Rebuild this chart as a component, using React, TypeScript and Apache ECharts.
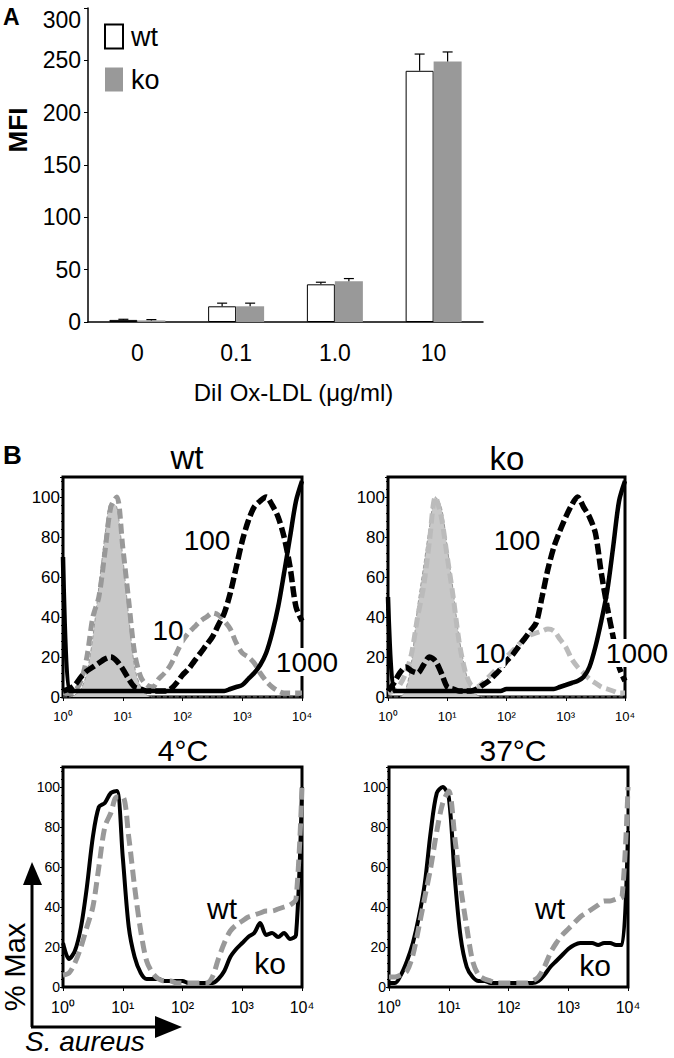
import React, { useEffect, useRef } from 'react';
import * as echarts from 'echarts';

const FONT = "'Liberation Sans', Arial, Helvetica, sans-serif";

// ---------- Panel A: MFI bar chart ----------
const doseCategories = ['0', '0.1', '1.0', '10'];
const mfiWt = [2, 15, 36, 240];
const mfiKo = [1.5, 15, 39, 249];
const sdWt = [0.6, 3, 2, 16];
const sdKo = [0.8, 3, 2.5, 9];

// ---------- Panel B: flow histograms (channel bins, % max) ----------
const channels = [1, 1.26, 1.58, 2, 2.51, 3.16, 3.98, 5.01, 6.31, 7.94, 10, 12.6, 15.8, 20, 25.1, 31.6, 39.8, 50.1, 63.1, 79.4, 100, 126, 158, 200, 251, 316, 398, 501, 631, 794, 1000, 1259, 1585, 1995, 2512, 3162, 3981, 5012, 6310, 7943, 10000];

const wtCtrl = [0, 0, 1, 4, 12, 30, 55, 80, 97, 95, 70, 40, 15, 5, 1, 0, 0, 0, 0, 0, 0, 0, 0, 0, 0, 0, 0, 0, 0, 0, 0, 0, 0, 0, 0, 0, 0, 0, 0, 0, 0];
const wt10 = [2, 2, 3, 8, 20, 40, 50, 72, 95, 100, 75, 48, 22, 10, 6, 5, 9, 12, 16, 22, 28, 32, 35, 38, 40, 42, 41, 38, 34, 27, 22, 20, 17, 12, 8, 5, 3, 2, 2, 2, 2];
const wt100 = [3, 4, 6, 10, 13, 15, 17, 19, 20, 18, 14, 9, 5, 4, 3, 3, 3, 3, 4, 7, 11, 14, 18, 22, 26, 30, 36, 42, 52, 65, 78, 88, 95, 98, 100, 96, 90, 80, 65, 45, 38];
const wt1000 = [70, 3, 3, 3, 3, 3, 3, 3, 3, 3, 3, 3, 3, 3, 3, 3, 3, 3, 3, 3, 3, 3, 3, 3, 3, 3, 3, 3, 4, 5, 6, 9, 12, 16, 22, 32, 45, 62, 80, 98, 108];

const koCtrl = [0, 0, 0, 4, 18, 45, 65, 85, 100, 95, 75, 53, 30, 14, 4, 1, 0, 0, 0, 0, 0, 0, 0, 0, 0, 0, 0, 0, 0, 0, 0, 0, 0, 0, 0, 0, 0, 0, 0, 0, 0];
const ko10 = [2, 3, 6, 12, 22, 40, 55, 78, 100, 90, 70, 50, 28, 13, 6, 5, 7, 10, 13, 16, 20, 23, 26, 29, 31, 32, 33, 34, 33, 29, 25, 19, 15, 12, 9, 7, 5, 4, 3, 2, 2];
const ko100 = [3, 7, 12, 15, 13, 12, 16, 20, 18, 12, 5, 4, 3, 3, 3, 4, 6, 8, 11, 14, 18, 21, 25, 29, 33, 37, 50, 64, 75, 83, 90, 96, 100, 95, 90, 82, 62, 45, 30, 15, 8];
const ko1000 = [50, 3, 3, 3, 3, 3, 3, 3, 3, 3, 3, 3, 3, 3, 3, 3, 3, 3, 3, 3, 4, 4, 4, 4, 4, 4, 4, 4, 4, 5, 6, 7, 8, 10, 15, 25, 38, 53, 75, 98, 108];

const sa4Ko = [22, 14, 18, 30, 50, 75, 90, 92, 97, 98, 65, 30, 15, 7, 4, 4, 4, 3, 3, 3, 3, 2, 2, 2, 2, 2, 4, 8, 15, 19, 22, 25, 27, 32, 26, 27, 25, 27, 24, 26, 100];
const sa4Wt = [6, 7, 12, 20, 30, 40, 60, 80, 87, 95, 95, 75, 50, 28, 13, 7, 4, 3, 3, 2, 2, 2, 2, 2, 2, 5, 14, 22, 28, 31, 33, 35, 36, 37, 38, 38, 39, 40, 41, 44, 100];
const sa37Ko = [2, 2, 6, 13, 22, 35, 52, 78, 97, 100, 95, 55, 25, 10, 5, 3, 3, 2, 2, 2, 2, 2, 2, 2, 2, 3, 6, 10, 13, 16, 19, 21, 22, 22, 22, 21, 22, 22, 21, 21, 78];
const sa37Wt = [5, 5, 6, 8, 16, 30, 45, 60, 78, 92, 98, 75, 50, 30, 13, 6, 4, 3, 2, 2, 2, 2, 2, 2, 3, 5, 10, 17, 22, 26, 29, 32, 35, 37, 39, 41, 43, 43, 44, 45, 100];

const supDigits = ['⁰', '¹', '²', '³', '⁴'];

function pairs(ys: number[]) {
  return channels.map((c, i) => [c, ys[i]]);
}

function logX(gi: number, fs: number, margin: number) {
  return {
    gridIndex: gi, type: 'log', logBase: 10, min: 1, max: 10000,
    axisLine: { show: false },
    axisTick: { show: true, length: 4, lineStyle: { color: '#000', width: 1 } },
    axisLabel: {
      fontSize: fs, color: '#000', margin, fontFamily: FONT,
      formatter: (v: number) => '10' + supDigits[Math.round(Math.log10(v))],
    },
    splitLine: { show: false },
  };
}

function linY(gi: number, fs: number) {
  return {
    gridIndex: gi, type: 'value', min: 0, max: 110, interval: 20,
    axisLine: { show: false },
    axisTick: { show: true, length: 3, lineStyle: { color: '#000' } },
    minorTick: { show: true, splitNumber: 5, length: 2, lineStyle: { color: '#000' } },
    axisLabel: { fontSize: fs, color: '#000', margin: 3, fontFamily: FONT, formatter: (v: number) => (v > 100 ? '' : String(v)) },
    splitLine: { show: false },
  };
}

function hist(name: string, gi: number, ys: number[], color: string, width: number, type: any, fill?: string) {
  const s: any = {
    type: 'line', name, xAxisIndex: gi, yAxisIndex: gi, data: pairs(ys),
    showSymbol: false, smooth: 0.3, clip: true,
    lineStyle: { color, width, type },
  };
  if (fill) s.areaStyle = { color: fill, opacity: 1 };
  return s;
}

function errorSeries(name: string, vals: number[], sds: number[], offset: number) {
  return {
    type: 'custom', name, xAxisIndex: 0, yAxisIndex: 0, z: 5,
    data: doseCategories.map((c, i) => [i, vals[i], sds[i]]),
    encode: { x: 0, y: 1 },
    renderItem: (params: any, api: any) => {
      const i = api.value(0);
      const v = api.value(1);
      const e = api.value(2);
      const base = api.coord([i, v]);
      const top = api.coord([i, v + e]);
      const cx = base[0] + offset;
      return {
        type: 'group',
        children: [
          { type: 'line', shape: { x1: cx, y1: base[1], x2: cx, y2: top[1] }, style: { stroke: '#000', lineWidth: 1.2 } },
          { type: 'line', shape: { x1: cx - 5, y1: top[1], x2: cx + 5, y2: top[1] }, style: { stroke: '#000', lineWidth: 1.2 } },
        ],
      };
    },
  };
}

function txt(text: string, x: number, y: number, size: number, extra: any = {}) {
  return {
    type: 'text', x, y, z: 20,
    style: { text, fontSize: size, fontFamily: FONT, fill: '#000', align: 'center', verticalAlign: 'middle', ...extra },
  };
}

export default function App() {
  const ref = useRef<HTMLDivElement>(null);
  useEffect(() => {
    if (!ref.current) return;
    const chart = echarts.init(ref.current, undefined, { renderer: 'svg' });
    const frame = { show: true, borderColor: '#000', borderWidth: 3, backgroundColor: 'transparent' };
    const dashGray = [10, 5];
    const dashBlack = [11, 4];
    const option: any = {
      animation: false,
      backgroundColor: '#fff',
      textStyle: { fontFamily: FONT, color: '#000' },
      legend: {
        data: ['wt', 'ko'], orient: 'vertical', left: 104, top: 23, padding: 0,
        itemWidth: 18, itemHeight: 24, itemGap: 16, icon: 'rect', selectedMode: false,
        textStyle: { fontSize: 27, color: '#000', fontFamily: FONT, padding: [0, 0, 0, 3] },
      },
      grid: [
        { left: 88, top: 8, width: 395, height: 314 },
        { left: 63, top: 477, width: 239, height: 220, ...frame },
        { left: 388, top: 477, width: 237, height: 220, ...frame },
        { left: 63, top: 767, width: 239, height: 220, ...frame },
        { left: 389, top: 767, width: 239, height: 220, ...frame },
      ],
      xAxis: [
        {
          gridIndex: 0, type: 'category', data: doseCategories,
          axisLine: { lineStyle: { color: '#000', width: 1.5 } },
          axisTick: { show: false },
          axisLabel: { fontSize: 23, color: '#000', margin: 19, fontFamily: FONT },
          name: 'DiI Ox-LDL (μg/ml)', nameLocation: 'middle', nameGap: 58,
          nameTextStyle: { fontSize: 24, color: '#000', fontFamily: FONT, padding: [0, 0, 0, 16] },
        },
        logX(1, 13, 13), logX(2, 13, 13), logX(3, 16, 12), logX(4, 16, 12),
      ],
      yAxis: [
        {
          gridIndex: 0, type: 'value', min: 0, max: 300, interval: 50,
          axisLine: { show: true, lineStyle: { color: '#000', width: 1.5 } },
          axisTick: { show: true, length: 4, lineStyle: { color: '#000' } },
          axisLabel: { fontSize: 23, color: '#000', margin: 7, fontFamily: FONT, verticalAlignMaxLabel: 'top' },
          splitLine: { show: false },
        },
        linY(1, 17), linY(2, 17), linY(3, 14), linY(4, 14),
      ],
      series: [
        { type: 'bar', name: 'wt', xAxisIndex: 0, yAxisIndex: 0, data: mfiWt, barWidth: 28, barGap: '0%', itemStyle: { color: '#fff', borderColor: '#000', borderWidth: 1 } },
        { type: 'bar', name: 'ko', xAxisIndex: 0, yAxisIndex: 0, data: mfiKo, barWidth: 28, barGap: '0%', itemStyle: { color: '#999' } },
        errorSeries('wt error', mfiWt, sdWt, -14),
        errorSeries('ko error', mfiKo, sdKo, 14),

        hist('wt control', 1, wtCtrl, '#999', 1, 'dashed', '#c8c8c8'),
        hist('wt 10', 1, wt10, '#999', 5, dashGray),
        hist('wt 100', 1, wt100, '#000', 5.5, dashBlack),
        hist('wt 1000', 1, wt1000, '#000', 4.5, 'solid'),

        hist('ko control', 2, koCtrl, '#999', 1, 'dashed', '#c8c8c8'),
        hist('ko 10', 2, ko10, '#bbb', 5, dashGray),
        hist('ko 100', 2, ko100, '#000', 5.5, dashBlack),
        hist('ko 1000', 2, ko1000, '#000', 4.5, 'solid'),

        hist('4°C ko', 3, sa4Ko, '#000', 4, 'solid'),
        hist('4°C wt', 3, sa4Wt, '#999', 5, [12, 6]),
        hist('37°C ko', 4, sa37Ko, '#000', 4, 'solid'),
        hist('37°C wt', 4, sa37Wt, '#999', 5, [12, 6]),
      ],
      graphic: [
        txt('A', 3, 17, 23, { fontWeight: 'bold', align: 'left' }),
        { type: 'text', x: 18, y: 130, rotation: Math.PI / 2, z: 20, style: { text: 'MFI', fontSize: 26, fontWeight: 'bold', fontFamily: FONT, fill: '#000', align: 'center', verticalAlign: 'middle' } },
        txt('B', 3, 455, 26, { fontWeight: 'bold', align: 'left' }),
        txt('wt', 187, 457, 33),
        txt('ko', 507, 458, 33),
        txt('4°C', 183, 750, 30),
        txt('37°C', 513, 750, 30),
        txt('100', 207, 540, 28, { backgroundColor: '#fff' }),
        txt('10', 168, 630, 28, { backgroundColor: '#fff' }),
        txt('1000', 307, 662, 28, { backgroundColor: '#fff' }),
        txt('100', 517, 540, 28, { backgroundColor: '#fff' }),
        txt('10', 490, 653, 28, { backgroundColor: '#fff' }),
        txt('1000', 637, 653, 28, { backgroundColor: '#fff' }),
        txt('wt', 222, 908, 30),
        txt('ko', 270, 963, 30),
        txt('wt', 550, 908, 30),
        txt('ko', 595, 965, 30),
        { type: 'line', z: 20, shape: { x1: 32, y1: 1027, x2: 32, y2: 880 }, style: { stroke: '#000', lineWidth: 3 } },
        { type: 'polygon', z: 20, shape: { points: [[23, 885], [42, 885], [32, 862]] }, style: { fill: '#000' } },
        { type: 'line', z: 20, shape: { x1: 31, y1: 1027, x2: 160, y2: 1027 }, style: { stroke: '#000', lineWidth: 3 } },
        { type: 'polygon', z: 20, shape: { points: [[155, 1016], [155, 1038], [182, 1027]] }, style: { fill: '#000' } },
        { type: 'text', x: 15, y: 967, rotation: Math.PI / 2, z: 20, style: { text: '% Max', fontSize: 29, fontFamily: FONT, fill: '#000', align: 'center', verticalAlign: 'middle' } },
        txt('S. aureus', 25, 1041, 28, { align: 'left', fontStyle: 'italic' }),
      ],
    };
    chart.setOption(option);
    return () => chart.dispose();
  }, []);
  return <div ref={ref} style={{ position: 'absolute', left: 0, top: 0, width: 674, height: 1058, background: '#fff' }} />;
}
